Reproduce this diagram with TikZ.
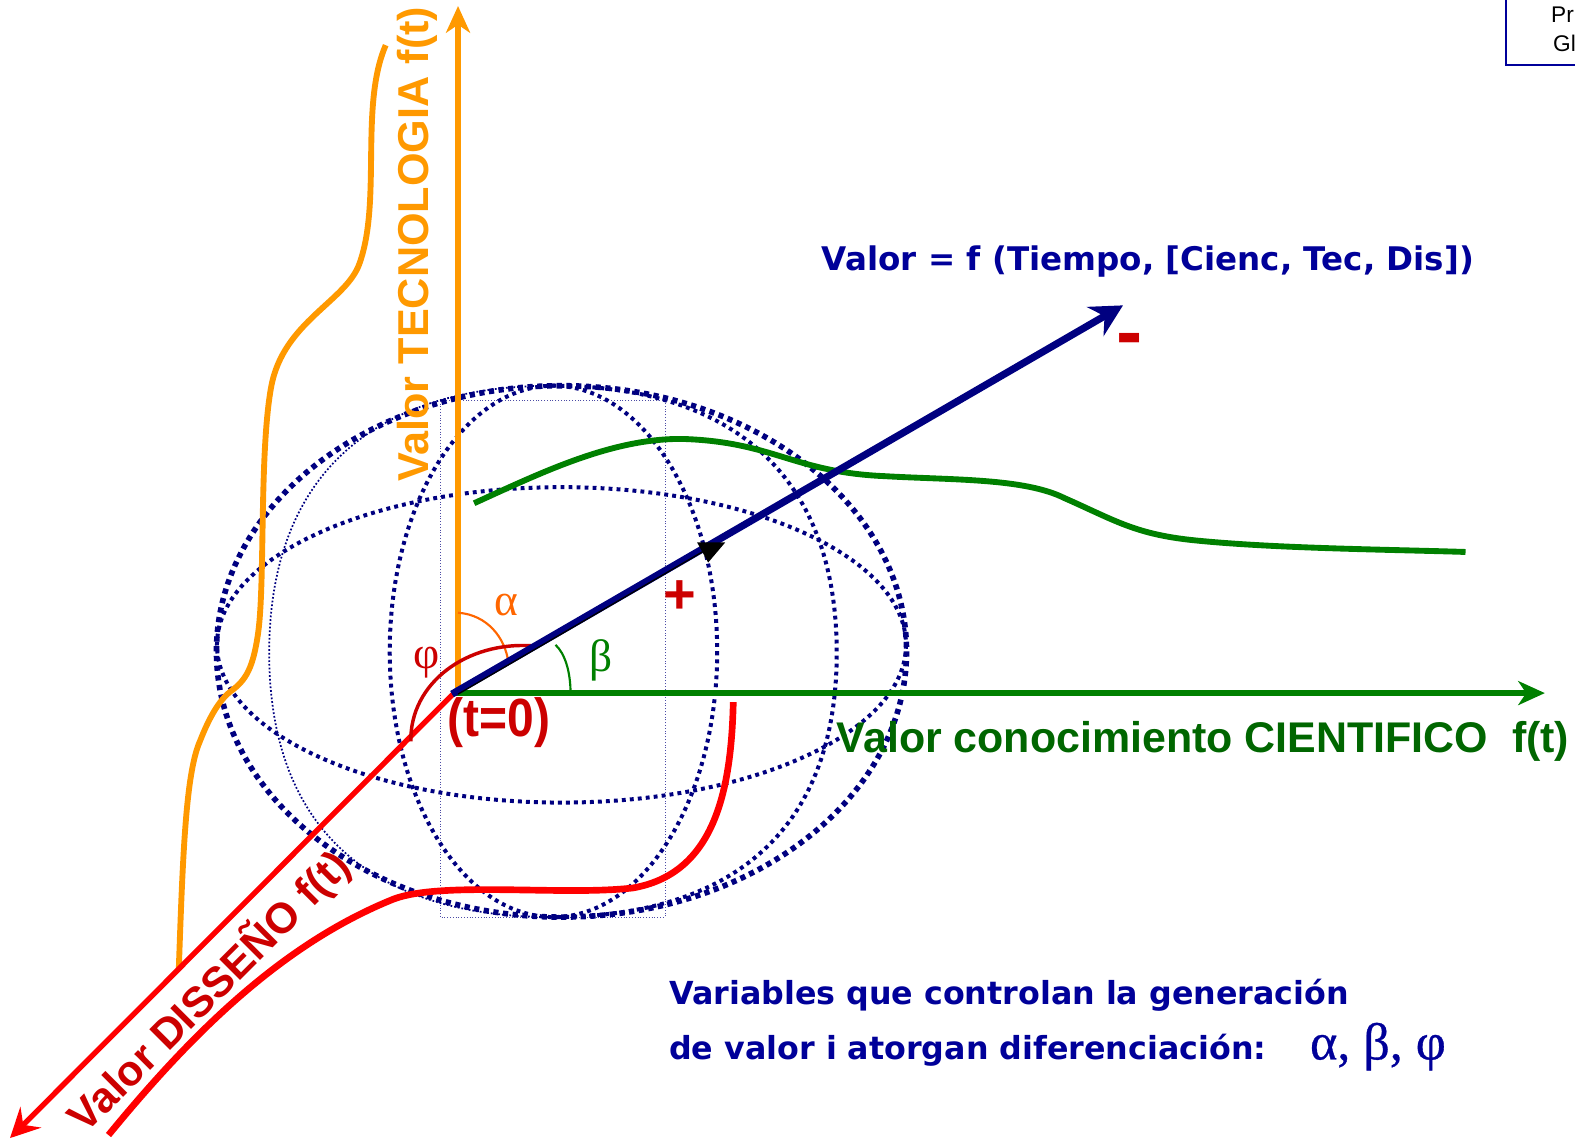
\documentclass[tikz,border=0pt]{standalone}
\usepackage{fontspec}
\setmainfont{Liberation Sans}
\newfontfamily\verdfont{DejaVu Sans}
\newfontfamily\grk{Liberation Serif}
\newfontfamily\grkb[FakeBold=0.6]{Liberation Serif}
\usetikzlibrary{arrows.meta}
\definecolor{navyl}{HTML}{000080}
\definecolor{navyt}{HTML}{000099}
\definecolor{orangel}{HTML}{FF9900}
\definecolor{orangea}{HTML}{FF6600}
\definecolor{greenl}{HTML}{008000}
\definecolor{greent}{HTML}{006600}
\definecolor{redl}{HTML}{FF0000}
\definecolor{redt}{HTML}{CC0000}
\tikzset{
  dotA/.style={navyl,line width=4.2pt,dash pattern=on 3.9pt off 3.4pt},
  dotB/.style={navyl,line width=3pt,dash pattern=on 2.9pt off 3.1pt},
  dotC/.style={navyl,line width=1.3pt,dash pattern=on 1.3pt off 1.5pt},
  dotD/.style={navyl!70,line width=0.6pt,dash pattern=on 0.8pt off 1.3pt},
  curveL/.style={line width=4.4pt},
  tipO/.style={-{Stealth[length=20pt,width=18pt,inset=6pt]}},
  tipR/.style={-{Stealth[length=22pt,width=22pt,inset=8pt]}},
  tipN/.style={-{Stealth[length=24pt,width=25pt,inset=8pt]}},
  lab/.style={inner sep=0pt,font=\bfseries},
  grklab/.style={inner sep=0pt,font=\grk\fontsize{34}{34}\selectfont},
}
\begin{document}
\begin{tikzpicture}[x=0.7534pt,y=-0.7534pt]
\useasboundingbox (0,0) rectangle (1568,1136);
\coordinate (O) at (452,690);
\coordinate (Tt) at (456,6);
\coordinate (Tv) at (1118,304);
\coordinate (Tc) at (1538,690);
\coordinate (Td) at (10,1133);
% sphere
\draw[dotD] (438,399) rectangle (662,913);
\draw[dotA] (559,648.5) ellipse [x radius=343.5,y radius=264.5];
\draw[dotB] (559,642) ellipse [x radius=343,y radius=157];
\draw[dotB] (551,648.5) ellipse [x radius=163,y radius=264.5];
\draw[dotC] (550,384) .. controls (367,384) and (268,478) .. (268,650)
  .. controls (268,822) and (367,913) .. (550,913);
\draw[dotB] (550,384) .. controls (734,384) and (833,478) .. (833,650)
  .. controls (833,822) and (734,913) .. (550,913);
% axes
\draw[orangel,line width=4.3pt,tipO] (456,690) -- (Tt);
\draw[orangel,curveL] (178,965) .. controls (182,850) and (185,770) .. (199,738)
  .. controls (208,715) and (218,697) .. (230,688)
  .. controls (245,677) and (252,665) .. (257,630)
  .. controls (264,580) and (258,450) .. (270,385)
  .. controls (282,320) and (345,300) .. (358,262)
  .. controls (380,200) and (358,105) .. (384,45);
\draw[redl,line width=4pt,tipR] (O) -- (Td);
\draw[redl,line width=5pt] (108,1130) .. controls (190,1030) and (280,940) .. (392,895)
  .. controls (440,877) and (560,892) .. (630,884)
  .. controls (710,870) and (728,790) .. (730,699);
\draw[greenl,curveL] (472,501) .. controls (540,470) and (610,436) .. (680,437)
  .. controls (770,440) and (790,470) .. (880,474)
  .. controls (950,478) and (1020,476) .. (1060,496)
  .. controls (1110,518) and (1130,532) .. (1190,538)
  .. controls (1270,546) and (1380,547) .. (1459,549.5);
\draw[greenl,line width=4.3pt,tipO] (O) -- (Tc);
% angle arcs
\draw[orangea,line width=1.6pt] (456,610) .. controls (485,612) and (503,635) .. (506,659);
\draw[greenl,line width=1.6pt] (553,642) .. controls (562,650) and (568,668) .. (568,690);
\draw[redt,line width=2.6pt] (409,738) .. controls (408,680) and (465,638) .. (531,643);
% vector
\draw[navyl,line width=5.4pt,tipN] (450,691) -- (Tv);
\draw[black,line width=1pt] (456,691) -- (700,549);
\fill[black] (694,540) -- (722,540) -- (705,560) -- cycle;
% labels
\node[lab,rotate=90,text=orangel,font=\bfseries\fontsize{32.4}{32}\selectfont,anchor=west] (ltec) at (415,480) {Valor TECNOLOGIA f(t)};
\node[lab,text=navyt,font=\verdfont\bfseries\fontsize{24.4}{25}\selectfont,anchor=west] (lval) at (818,260) {Valor = f (Tiempo, [Cienc, Tec, Dis])};
\node[lab,text=greent,font=\bfseries\fontsize{32.2}{32}\selectfont,anchor=west] (lcie) at (833,738) {Valor conocimiento CIENTIFICO\ \ f(t)};
\node[lab,text=redt,font=\bfseries\fontsize{36}{36}\selectfont] (lt0) at (497,719) {\scalebox{1}[1.12]{(t=0)}};
\node[lab,text=redt,rotate=45,font=\bfseries\fontsize{32}{32}\selectfont] (ldis) at (208,987) {Valor DISSEÑO f(t)};
\node[lab,text=redt,font=\bfseries\fontsize{42}{42}\selectfont] (lplus) at (676.5,594) {+};
\node[lab,text=redt,font=\bfseries\fontsize{59}{59}\selectfont] (lminus) at (1124.5,344.5) {-};
\node[grklab,text=orangea] (la) at (504,602) {α};
\node[grklab,text=greenl] (lb) at (598,657) {β};
\node[grklab,text=redt] (lf) at (425,660) {φ};
\node[lab,text=navyt,font=\verdfont\bfseries\fontsize{23.8}{25}\selectfont,anchor=west] (lv1) at (666,991) {Variables que controlan la generación};
\node[lab,text=navyt,font=\verdfont\bfseries\fontsize{23.8}{25}\selectfont,anchor=west] (lv2) at (666,1046) {de valor i atorgan diferenciación:};
\node[lab,text=navyt,font=\grkb\fontsize{39}{39}\selectfont,anchor=west] (lv3) at (1304,1042) {α, β, φ};
% box
\begin{scope}
\clip (0,0) rectangle (1568,1136);
\draw[navyl!80!blue,line width=1.5pt] (1499,-5) -- (1499,65) -- (1580,65);
\node[inner sep=0pt,anchor=west,font=\fontsize{17}{17}\selectfont] (bx1) at (1544,15) {Pr};
\node[inner sep=0pt,anchor=west,font=\fontsize{17}{17}\selectfont] (bx2) at (1546,43) {Gl};
\end{scope}
\end{tikzpicture}
\end{document}
